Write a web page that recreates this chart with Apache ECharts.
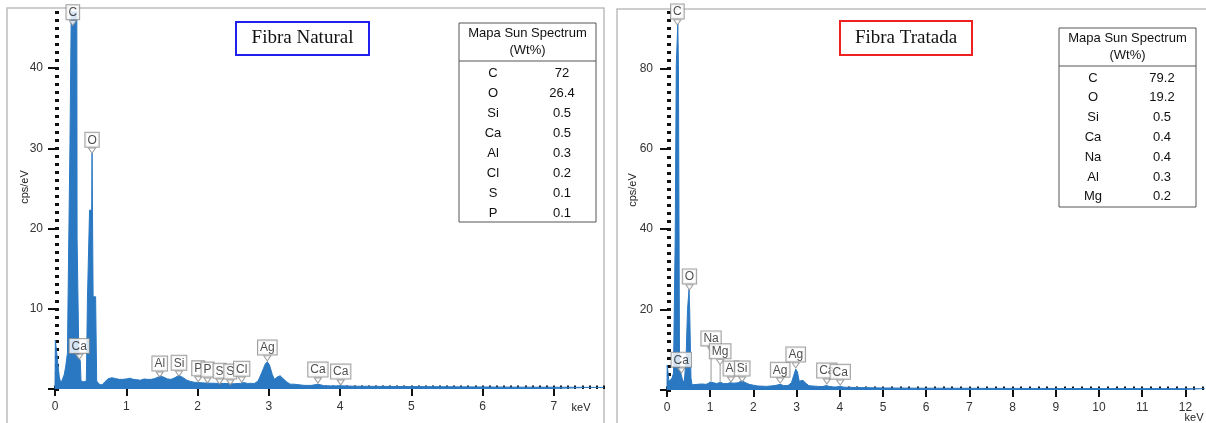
<!DOCTYPE html>
<html><head><meta charset="utf-8">
<script src="https://cdn.jsdelivr.net/npm/echarts@6/dist/echarts.min.js"></script>
<style>html,body{margin:0;padding:0;background:#fff}#c{width:1206px;height:423px}</style>
</head><body><div id="c"></div>
<script>
// ---------- DATA ----------
// Fibra Natural spectrum (keV, cps/eV)
const natKeV = [0.000,0.005,0.025,0.030,0.050,0.060,0.080,0.100,0.130,0.150,0.175,0.180,0.205,0.210,0.235,0.240,0.305,0.310,0.330,0.335,0.355,0.365,0.400,0.440,0.455,0.480,0.485,0.515,0.520,0.530,0.535,0.570,0.585,0.620,0.660,0.700,0.750,0.800,0.850,0.900,0.950,1.000,1.050,1.100,1.150,1.200,1.250,1.300,1.350,1.400,1.450,1.490,1.530,1.580,1.630,1.680,1.740,1.800,1.850,1.900,1.950,2.000,2.050,2.100,2.200,2.300,2.400,2.500,2.600,2.650,2.700,2.800,2.850,2.900,2.950,2.980,3.010,3.050,3.080,3.120,3.160,3.200,3.250,3.300,3.350,3.400,3.500,3.600,3.690,3.780,3.900,4.000,4.200,4.500,5.000,5.500,6.000,6.500,7.000,7.700];
const natCps = [0.0,6.1,6.0,4.0,3.8,1.5,0.8,1.1,1.8,2.8,4.5,8.8,8.8,30.6,30.6,58,58,18.8,18.8,4.0,3.5,1.0,0.9,1.0,11.1,11.1,22.3,22.3,29.4,29.4,11.5,11.5,1.0,0.6,0.5,0.9,1.3,1.4,1.3,1.2,1.2,1.25,1.35,1.2,1.15,1.1,1.25,1.2,1.2,1.3,1.5,1.6,1.45,1.25,1.2,1.4,1.7,1.4,1.1,0.95,0.85,0.8,0.78,0.75,0.72,0.7,0.68,0.65,0.7,0.8,0.7,0.7,1.0,2.0,3.1,3.4,3.0,1.8,1.2,1.5,1.65,1.3,0.9,0.6,0.6,0.55,0.45,0.45,0.6,0.4,0.38,0.4,0.35,0.33,0.3,0.28,0.25,0.23,0.22,0.2];
// Fibra Tratada spectrum (keV, cps/eV)
const trtKeV = [0.000,0.005,0.035,0.045,0.090,0.120,0.150,0.185,0.190,0.210,0.215,0.245,0.250,0.260,0.265,0.285,0.290,0.300,0.340,0.360,0.400,0.430,0.440,0.470,0.475,0.505,0.510,0.520,0.525,0.550,0.555,0.580,0.620,0.700,0.800,0.900,0.950,1.000,1.040,1.080,1.150,1.200,1.250,1.300,1.400,1.450,1.490,1.550,1.650,1.740,1.800,1.900,2.000,2.100,2.200,2.300,2.400,2.500,2.620,2.700,2.800,2.880,2.930,2.980,3.020,3.060,3.100,3.150,3.200,3.280,3.350,3.500,3.600,3.690,3.780,3.900,4.010,4.100,4.500,5.000,6.000,7.000,8.000,9.000,10.000,11.000,12.000,12.450];
const trtCps = [0.0,6.2,6.2,2.1,2.0,3.0,4.2,4.2,38,38,81,81,91,91,81,81,6.0,5.0,4.8,2.5,2.0,2.0,7.5,7.5,20,20,25,25,20,20,3.0,1.3,1.2,1.4,1.5,1.4,1.6,2.0,2.3,1.8,1.6,1.8,1.9,1.6,1.6,1.8,2.0,1.7,1.8,2.4,1.9,1.4,1.2,1.0,0.95,0.9,1.0,1.1,1.4,1.1,1.1,1.8,3.5,5.2,4.5,2.2,1.8,2.4,1.8,1.1,1.0,0.9,0.85,1.1,0.8,0.75,0.9,0.7,0.6,0.5,0.45,0.42,0.4,0.38,0.36,0.35,0.33,0.32];

// Axis ticks / labels
const natTicksX = [0,1,2,3,4,5,6,7];
const natTicksY = [0,10,20,30,40];
const trtTicksX = [0,1,2,3,4,5,6,7,8,9,10,11,12];
const trtTicksY = [0,20,40,60,80];

// Peak markers
const natPeakNames = ['C','O','Ca','Al','Si','P','P','S','S','Cl','Ag','Ca','Ca'];
const natPeakKeV  = [0.25,0.52,0.34,1.47,1.74,2.01,2.14,2.31,2.46,2.62,2.98,3.69,4.01];
const natPeakCps  = [45.3,29.4,3.7,1.5,1.6,0.9,0.75,0.6,0.5,0.85,3.5,0.75,0.5];
const trtPeakNames = ['C','O','Ca','Na','Mg','Al','Si','Ag','Ag','Ca','Ca'];
const trtPeakKeV  = [0.24,0.52,0.33,1.02,1.23,1.48,1.74,2.62,2.98,3.70,4.01];
const trtPeakCps  = [90.8,24.9,4.2,9.5,6.3,2.0,2.0,1.7,5.5,1.5,1.2];
// leader lines (keV, from cps, to cps)
const trtLeadKeV = [1.02,1.23];
const trtLeadFrom = [9.5,6.3];
const trtLeadTo = [2.2,1.8];

// Tables
const natTblEl  = ['C','O','Si','Ca','Al','Cl','S','P'];
const natTblVal = ['72','26.4','0.5','0.5','0.3','0.2','0.1','0.1'];
const trtTblEl  = ['C','O','Si','Ca','Na','Al','Mg'];
const trtTblVal = ['79.2','19.2','0.5','0.4','0.4','0.3','0.2'];
const tblHeader = ['Mapa Sun Spectrum','(Wt%)'];
const titles = ['Fibra Natural','Fibra Tratada'];

// ---------- CHART ----------
const FONT = 'Liberation Sans';
const BLUE = '#2a78c2';
const chart = echarts.init(document.getElementById('c'), null, {renderer:'canvas'});

function range(step, max){ const a=[]; for(let i=0;i*step<=max+1e-9;i++){a.push(Math.round(i*step*1000)/1000);} return a; }

function xMajor(grid, max, ticks){
  return {gridIndex:grid,type:'value',min:0,max:max,axisLine:{show:false},splitLine:{show:false},
    axisTick:{show:true,customValues:ticks,length:7,lineStyle:{width:2,color:'#111'}},
    axisLabel:{customValues:ticks,margin:12,fontSize:12,color:'#333',fontFamily:FONT}};
}
function xMinor(grid, max, step){
  return {gridIndex:grid,type:'value',min:0,max:max,axisLine:{show:false},splitLine:{show:false},
    axisTick:{show:true,customValues:range(step,max),length:3.5,lineStyle:{width:2,color:'#111'}},
    axisLabel:{show:false}};
}
function yMajor(grid, max, ticks, off){
  return {gridIndex:grid,type:'value',min:0,max:max,offset:off,axisLine:{show:false},splitLine:{show:false},
    axisTick:{show:true,customValues:ticks,length:7,lineStyle:{width:2,color:'#111'}},
    axisLabel:{customValues:ticks.filter(v=>v>0),margin:9,fontSize:12,color:'#333',fontFamily:FONT}};
}
function yMinor(grid, max, step, off){
  return {gridIndex:grid,type:'value',min:0,max:max,offset:off,axisLine:{show:false},splitLine:{show:false},
    axisTick:{show:true,customValues:range(step,max),length:4,lineStyle:{width:3,color:'#111'}},
    axisLabel:{show:false}};
}
function zip(a,b){ return a.map((v,i)=>[v,b[i]]); }
function labels(names, xs, ys, xi, yi){
  return {type:'scatter',xAxisIndex:xi,yAxisIndex:yi,z:10,
    symbol:'triangle',symbolRotate:180,symbolSize:[7,5],symbolOffset:[0,-2.5],
    itemStyle:{color:'#fff',borderColor:'#888',borderWidth:1},
    label:{show:true,position:'top',distance:1,formatter:p=>p.name,fontSize:12,fontFamily:FONT,color:'#222',
      backgroundColor:'#fff',borderColor:'#888',borderWidth:1,padding:[1,2,0,2],lineHeight:13},
    data:names.map((n,i)=>({name:n,value:[xs[i],ys[i]]})),silent:true,animation:false};
}
function spectrum(k,c,xi,yi){
  return {type:'line',xAxisIndex:xi,yAxisIndex:yi,data:zip(k,c),symbol:'none',clip:true,z:2,
    lineStyle:{width:1,color:BLUE},areaStyle:{color:BLUE,opacity:1},animation:false};
}
function table(x, y, w, h, sepY, hdrY, rowY0, rowStep, el, val){
  const g=[];
  g.push({type:'rect',shape:{x:x,y:y,width:w,height:h},style:{fill:'#fff',stroke:'#555',lineWidth:1},z:20});
  g.push({type:'line',shape:{x1:x,y1:sepY,x2:x+w,y2:sepY},style:{stroke:'#555',lineWidth:1},z:21});
  tblHeader.forEach((t,i)=>g.push({type:'text',z:21,style:{text:t,x:x+w/2,y:hdrY+i*17,align:'center',verticalAlign:'middle',font:'13px "'+FONT+'"',fill:'#111'}}));
  el.forEach((t,i)=>{
    g.push({type:'text',z:21,style:{text:t,x:x+34,y:rowY0+i*rowStep,align:'center',verticalAlign:'middle',font:'13px "'+FONT+'"',fill:'#111'}});
    g.push({type:'text',z:21,style:{text:val[i],x:x+103,y:rowY0+i*rowStep,align:'center',verticalAlign:'middle',font:'13px "'+FONT+'"',fill:'#111'}});
  });
  return g;
}

const graphic = [
  {type:'rect',shape:{x:7,y:8,width:597,height:430},style:{fill:'none',stroke:'#bdbdbd',lineWidth:1.5},z:0},
  {type:'rect',shape:{x:617,y:9,width:600,height:430},style:{fill:'none',stroke:'#bdbdbd',lineWidth:1.5},z:0},
  {type:'rect',shape:{x:236,y:22,width:133,height:33},style:{fill:'#fff',stroke:'#2020ee',lineWidth:2},z:20},
  {type:'text',z:21,style:{text:titles[0],x:302.5,y:38.5,align:'center',verticalAlign:'middle',font:'19px "Liberation Serif"',fill:'#111'}},
  {type:'rect',shape:{x:840,y:21,width:132,height:34},style:{fill:'#fff',stroke:'#ee2020',lineWidth:2},z:20},
  {type:'text',z:21,style:{text:titles[1],x:906,y:38,align:'center',verticalAlign:'middle',font:'19px "Liberation Serif"',fill:'#111'}},
  {type:'text',z:21,rotation:Math.PI/2,x:25,y:187,style:{text:'cps/eV',x:0,y:0,align:'center',verticalAlign:'middle',font:'11px "'+FONT+'"',fill:'#222'}},
  {type:'text',z:21,rotation:Math.PI/2,x:633,y:190,style:{text:'cps/eV',x:0,y:0,align:'center',verticalAlign:'middle',font:'11px "'+FONT+'"',fill:'#222'}},
  {type:'text',z:21,style:{text:'keV',x:581,y:408,align:'center',verticalAlign:'middle',font:'11px "'+FONT+'"',fill:'#222'}},
  {type:'text',z:21,style:{text:'keV',x:1194,y:418,align:'center',verticalAlign:'middle',font:'11px "'+FONT+'"',fill:'#222'}},
  ...table(459,23,137,199,61,33,73.5,20,natTblEl,natTblVal),
  ...table(1059,28,137,179,66,38,78,19.8,trtTblEl,trtTblVal)
];

const leaders = trtLeadKeV.map((k,i)=>({type:'line',xAxisIndex:2,yAxisIndex:2,z:9,symbol:'none',animation:false,
  data:[[k,trtLeadFrom[i]],[k,trtLeadTo[i]]],lineStyle:{width:1,color:'#999'}}));

chart.setOption({
  animation:false,
  backgroundColor:'#fff',
  grid:[
    {left:55,top:12,width:7.7*71.25,height:377},
    {left:667,top:12,width:12.45*43.2,height:378}
  ],
  xAxis:[xMajor(0,7.7,natTicksX), xMinor(0,7.7,0.1), xMajor(1,12.45,trtTicksX), xMinor(1,12.45,0.2)],
  yAxis:[yMajor(0,47,natTicksY,3), yMinor(0,47,1,3), yMajor(1,94,trtTicksY,5), yMinor(1,94,2,5)],
  series:[
    spectrum(natKeV,natCps,0,0),
    spectrum(trtKeV,trtCps,2,2),
    ...leaders,
    labels(natPeakNames,natPeakKeV,natPeakCps,0,0),
    labels(trtPeakNames,trtPeakKeV,trtPeakCps,2,2)
  ],
  graphic:graphic
});
</script></body></html>
